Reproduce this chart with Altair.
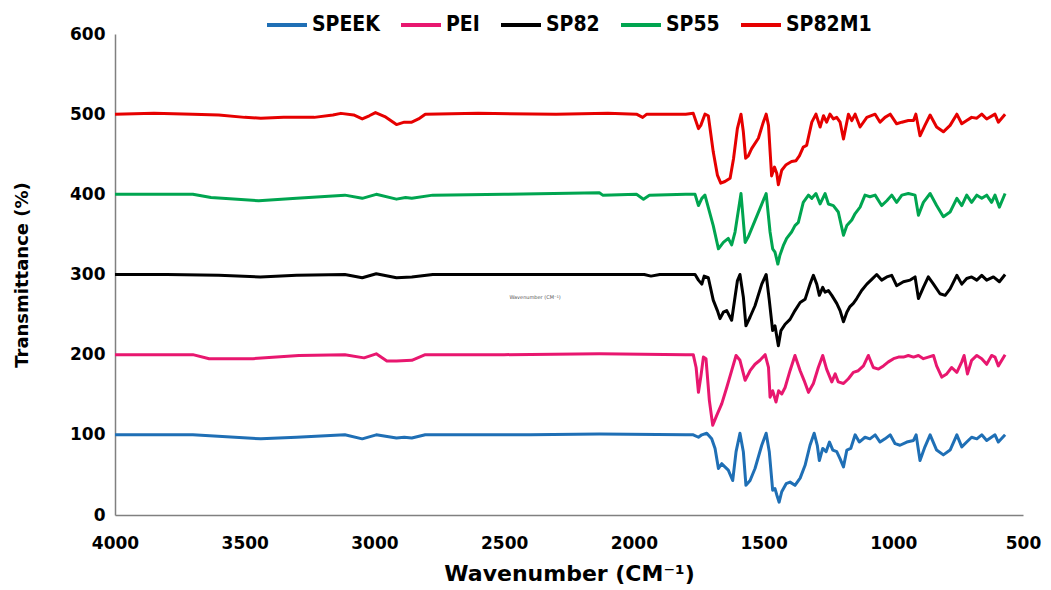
import altair as alt
import pandas as pd

series_names = ["SPEEK", "PEI", "SP82", "SP55", "SP82M1"]
series_colors = ["#1F6FB5", "#E8176F", "#000000", "#00A550", "#E60000"]

speek_wn = [4000, 3700, 3438, 3300, 3114, 3047, 2993, 2915, 2885, 2856, 2804, 2400, 2133, 1800, 1771,
            1751, 1738, 1719, 1700, 1687, 1674, 1661, 1649, 1636, 1619, 1606, 1591, 1578, 1568, 1552,
            1533, 1507, 1490, 1478, 1465, 1456, 1449, 1440, 1430, 1413, 1398, 1379, 1359, 1340, 1321,
            1305, 1293, 1285, 1272, 1259, 1246, 1233, 1218, 1205, 1192, 1179, 1164, 1147, 1131, 1109,
            1090, 1070, 1051, 1032, 1012, 993, 974, 948, 922, 912, 897, 878, 858, 833, 807, 781, 755,
            736, 717, 698, 678, 659, 640, 608, 595, 569]
speek_t = [100, 100, 95, 97, 100, 95, 100, 96, 97, 96, 100, 100, 101, 100, 100,
           97, 100, 102, 95, 83, 58, 64, 60, 56, 43, 79, 102, 79, 37, 43,
           58, 87, 102, 79, 31, 33, 25, 16, 29, 39, 41, 37, 46, 62, 87,
           102, 87, 68, 83, 79, 91, 81, 79, 70, 60, 81, 83, 100, 91, 97,
           95, 100, 91, 95, 100, 89, 87, 91, 93, 100, 68, 85, 100, 81, 75, 81, 100,
           85, 91, 97, 95, 100, 93, 100, 91, 100]

pei_wn = [4000, 3700, 3637, 3468, 3291, 3114, 3040, 2993, 2952, 2915, 2856, 2804, 2500, 2133, 1800, 1771,
          1760, 1751, 1742, 1732, 1722, 1709, 1696, 1681, 1661, 1642, 1623, 1606, 1591, 1571, 1552,
          1533, 1514, 1494, 1481, 1475, 1465, 1452, 1442, 1430, 1417, 1398, 1379, 1359, 1344, 1327,
          1308, 1289, 1272, 1257, 1237, 1224, 1212, 1192, 1173, 1154, 1135, 1115, 1096, 1077, 1057,
          1038, 1019, 999, 980, 961, 942, 922, 903, 884, 865, 845, 833, 813, 794, 775, 755, 736, 727,
          714, 698, 678, 659, 640, 621, 608, 595, 569]
pei_t = [200, 200, 195, 195, 199, 200, 196, 201, 192, 192, 193, 200, 200, 201, 200, 200,
         184, 153, 172, 197, 195, 143, 112, 124, 139, 159, 180, 199, 193, 168, 180,
         188, 193, 200, 184, 147, 155, 141, 155, 151, 159, 180, 199, 180, 168, 153,
         164, 184, 199, 182, 166, 176, 166, 164, 170, 178, 180, 186, 199, 184, 182,
         186, 191, 195, 197, 197, 199, 197, 199, 195, 197, 199, 186, 172, 176, 184, 178, 191, 199,
         176, 193, 199, 195, 188, 199, 197, 186, 200]

sp82_wn = [4000, 3800, 3600, 3440, 3300, 3114, 3047, 2993, 2915, 2856, 2775, 2300, 1960, 1934, 1900, 1764,
           1751, 1738, 1729, 1713, 1694, 1678, 1668, 1655, 1642, 1623, 1610, 1601, 1591, 1578, 1568,
           1552, 1533, 1507, 1490, 1478, 1465, 1456, 1443, 1433, 1417, 1398, 1379, 1359, 1340, 1321,
           1308, 1295, 1285, 1272, 1263, 1250, 1237, 1218, 1205, 1192, 1179, 1167, 1154, 1141, 1122,
           1102, 1083, 1064, 1045, 1025, 1006, 987, 961, 935, 916, 903, 884, 865, 845, 820, 800, 781,
           755, 736, 717, 698, 678, 659, 640, 614, 591, 569]
sp82_t = [300, 300, 299, 297, 299, 300, 296, 301, 296, 297, 300, 300, 300, 298, 300, 300,
          293, 288, 298, 296, 268, 255, 245, 253, 255, 243, 272, 292, 300, 272, 236,
          247, 261, 288, 300, 268, 230, 236, 211, 230, 238, 244, 255, 265, 269, 288,
          299, 288, 274, 284, 278, 280, 274, 264, 255, 241, 253, 260, 264, 270, 280,
          288, 294, 300, 293, 297, 299, 286, 291, 293, 297, 270, 284, 297, 288, 276, 274, 282,
          299, 288, 295, 297, 293, 299, 293, 297, 291, 300]

sp55_wn = [4000, 3850, 3700, 3630, 3446, 3300, 3114, 3047, 2993, 2915, 2880, 2856, 2775, 2500, 2133, 2120,
           1990, 1963, 1940, 1800, 1764,
           1751, 1738, 1726, 1694, 1674, 1655, 1636, 1623, 1610, 1587, 1571, 1559, 1490, 1475, 1465,
           1456, 1445, 1437, 1424, 1411, 1392, 1379, 1366, 1347, 1327, 1314, 1298, 1282, 1263, 1250,
           1231, 1212, 1192, 1179, 1160, 1147, 1128, 1109, 1090, 1070, 1045, 1025, 1006, 987, 967, 942,
           916, 903, 884, 858, 833, 807, 781, 755, 736, 717, 698, 678, 659, 640, 621, 608, 591, 569]
sp55_t = [400, 400, 400, 396, 392, 395, 399, 395, 400, 394, 396, 395, 399, 400, 402, 399,
          400, 394, 399, 400, 400,
          386, 395, 399, 361, 332, 340, 345, 337, 353, 401, 340, 347, 401, 353, 332,
          328, 313, 324, 336, 345, 353, 361, 365, 390, 399, 395, 401, 388, 401, 388,
          386, 378, 349, 361, 368, 376, 384, 399, 397, 399, 386, 392, 399, 390, 399, 401,
          399, 374, 390, 401, 386, 372, 378, 395, 386, 399, 390, 399, 395, 399, 390, 399, 384, 401]

sp82m1_wn = [4000, 3850, 3700, 3600, 3500, 3438, 3350, 3232, 3160, 3129, 3080, 3047, 3020, 2996, 2960,
             2915, 2885, 2856, 2830, 2804, 2600, 2300, 2100, 1990, 1966, 1950, 1800, 1771,
             1751, 1742, 1726, 1713, 1694, 1678, 1665, 1649, 1629, 1616, 1601, 1587, 1578, 1569, 1559,
             1546, 1520, 1501, 1490, 1481, 1469, 1458, 1449, 1443, 1430, 1413, 1392, 1375, 1362, 1347,
             1334, 1314, 1298, 1282, 1269, 1257, 1244, 1231, 1218, 1205, 1192, 1173, 1160, 1147, 1128,
             1102, 1070, 1051, 1032, 1012, 987, 967, 942, 922, 913, 897, 878, 858, 833, 807, 781, 755,
             736, 717, 698, 678, 659, 640, 608, 595, 569]
sp82m1_t = [500, 501, 500, 499, 496, 495, 496, 496, 499, 501, 499, 494, 498, 502, 497,
            487, 490, 490, 494, 500, 501, 500, 501, 500, 496, 500, 500, 501,
            482, 486, 500, 498, 453, 424, 414, 416, 420, 444, 482, 500, 478, 445, 448,
            457, 470, 490, 500, 486, 423, 434, 426, 412, 430, 437, 441, 442, 448, 459,
            461, 490, 500, 484, 498, 490, 500, 494, 496, 490, 469, 500, 492, 500, 484,
            496, 500, 490, 496, 500, 488, 490, 492, 492, 500, 473, 486, 499, 484, 478, 486, 500,
            488, 492, 496, 495, 500, 494, 500, 490, 500]

x_ticks = [4000, 3500, 3000, 2500, 2000, 1500, 1000, 500]
y_ticks = [0, 100, 200, 300, 400, 500, 600]

rows = []
for name, wn, t in [("SPEEK", speek_wn, speek_t), ("PEI", pei_wn, pei_t), ("SP82", sp82_wn, sp82_t),
                    ("SP55", sp55_wn, sp55_t), ("SP82M1", sp82m1_wn, sp82m1_t)]:
    for a, b in zip(wn, t):
        rows.append({"series": name, "wn": a, "t": b})
df = pd.DataFrame(rows)

lines = alt.Chart(df).mark_line(strokeWidth=3, interpolate="linear", strokeJoin="round").encode(
    x=alt.X("wn:Q", scale=alt.Scale(domain=[500, 4000], reverse=True, nice=False),
            axis=alt.Axis(values=x_ticks, title="Wavenumber (CM\u207B\u00B9)", grid=False, ticks=False,
                          labelFlush=False, labelOverlap=False,
                          labelFontSize=17, labelFont="DejaVu Sans", labelFontWeight="bold",
                          labelColor="#000000", labelPadding=20, titleFontSize=22,
                          titleFont="DejaVu Sans", titleFontWeight="bold", titleColor="#000000",
                          titlePadding=12, domainColor="#808080", domainWidth=1.5, format="d")),
    y=alt.Y("t:Q", scale=alt.Scale(domain=[0, 600], nice=False),
            axis=alt.Axis(values=y_ticks, title="Transmittance (%)", grid=False, ticks=False,
                          labelFlush=False, labelOverlap=False,
                          labelFontSize=17, labelFont="DejaVu Sans", labelFontWeight="bold",
                          labelColor="#000000", labelPadding=10, titleFontSize=18,
                          titleFont="DejaVu Sans", titleFontWeight="bold", titleColor="#000000",
                          titlePadding=38, domainColor="#808080", domainWidth=1.5)),
    color=alt.Color("series:N", scale=alt.Scale(domain=series_names, range=series_colors),
                    sort=series_names,
                    legend=alt.Legend(title=None, orient="none", direction="horizontal",
                                      legendX=150, legendY=-31, symbolType="stroke",
                                      symbolSize=1600, symbolStrokeWidth=4,
                                      labelFont="DejaVu Sans Condensed, sans-serif",
                                      labelFontWeight="bold", labelFontSize=21, labelColor="#000000",
                                      labelOffset=3, columnPadding=13)),
    detail="series:N",
)

note_df = pd.DataFrame({"wn": [2381], "t": [272], "label": ["Wavenumber (CM\u207B\u00B9)"]})
note = alt.Chart(note_df).mark_text(fontSize=5, color="#555555", font="DejaVu Sans").encode(
    x="wn:Q", y="t:Q", text="label:N")

chart = (lines + note).properties(
    width=908, height=481,
    autosize=alt.AutoSizeParams(type="none"),
    padding={"left": 107, "top": 26, "right": 20, "bottom": 75},
).configure_view(stroke=None)

chart.save("out.html", embed_options={"renderer": "svg", "actions": False})
